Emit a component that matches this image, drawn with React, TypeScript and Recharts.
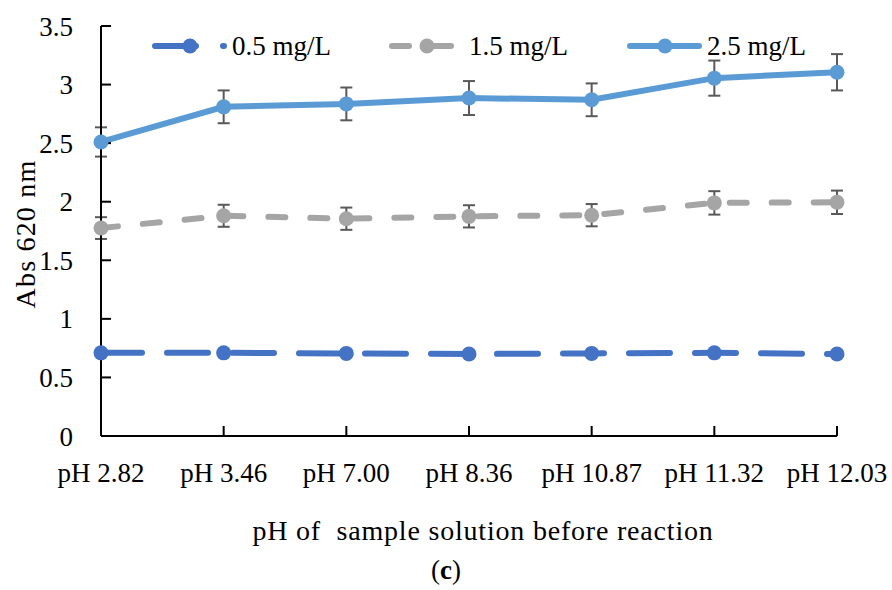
import { ErrorBar, Label, Legend, Line, LineChart, XAxis, YAxis } from 'recharts';

const categories = ['pH 2.82', 'pH 3.46', 'pH 7.00', 'pH 8.36', 'pH 10.87', 'pH 11.32', 'pH 12.03'];
const seriesNames = ['0.5 mg/L', '1.5 mg/L', '2.5 mg/L'];
const low = [0.71, 0.71, 0.705, 0.7, 0.705, 0.71, 0.7];
const mid = [1.775, 1.88, 1.855, 1.875, 1.885, 1.99, 1.995];
const midErr = [0.093, 0.094, 0.095, 0.095, 0.095, 0.1, 0.1];
const high = [2.51, 2.81, 2.835, 2.885, 2.87, 3.055, 3.105];
const highErr = [0.125, 0.14, 0.14, 0.145, 0.14, 0.15, 0.155];
const yTicks = [0, 0.5, 1, 1.5, 2, 2.5, 3, 3.5];

const DARK = '#4472C4';
const GRAY = '#A5A5A5';
const LIGHT = '#5B9BD5';
const ERR = '#595959';
const FONT = '"Liberation Serif", serif';

const data = categories.map((c, i) => ({
  name: c,
  low: low[i],
  mid: mid[i],
  midErr: midErr[i],
  high: high[i],
  highErr: highErr[i],
}));

const legendItems = [
  { name: seriesNames[0], color: DARK, dash: '41 27', left: 152, width: 76, marker: 38, gap: 4 },
  { name: seriesNames[1], color: GRAY, dash: '17 25', left: 389, width: 71, marker: 38, gap: 9 },
  { name: seriesNames[2], color: LIGHT, dash: undefined, left: 627, width: 76, marker: 38, gap: 4 },
];

function LegendBox() {
  return (
    <div style={{ position: 'relative', width: 892, height: 40, fontFamily: FONT }}>
      {legendItems.map((it) => (
        <div
          key={it.name}
          style={{ position: 'absolute', left: it.left, top: 0, height: 40, display: 'flex', alignItems: 'center' }}
        >
          <svg width={it.width} height={40} style={{ display: 'block' }}>
            <line
              x1={3}
              x2={it.width - 4}
              y1={20}
              y2={20}
              stroke={it.color}
              strokeWidth={6}
              strokeLinecap="round"
              strokeDasharray={it.dash}
            />
            <circle cx={it.marker} cy={20} r={7.5} fill={it.color} />
          </svg>
          <span style={{ fontSize: 27, color: '#000', marginLeft: it.gap, whiteSpace: 'nowrap' }}>{it.name}</span>
        </div>
      ))}
    </div>
  );
}

export default function App() {
  return (
    <div style={{ position: 'absolute', left: 0, top: 0 }}>
      <LineChart
        width={892}
        height={590}
        data={data}
        margin={{ top: 26, right: 55, bottom: 0, left: 0 }}
        style={{ fontFamily: FONT }}
      >
        <XAxis
          dataKey="name"
          scale="point"
          padding={{ left: 0, right: 0 }}
          height={154}
          axisLine={{ stroke: '#000', strokeWidth: 2 }}
          tickLine={{ stroke: '#000', strokeWidth: 2 }}
          tickSize={-10}
          tickMargin={37}
          tick={{ fill: '#000', fontSize: 27 }}
          interval={0}
        >
          <Label
            content={(p: any) => {
              const vb = p.viewBox;
              const cx = vb.x + vb.width / 2;
              return (
                <g fontFamily={FONT} fill="#000">
                  <text
                    x={cx + 14}
                    y={vb.y + 104}
                    textAnchor="middle"
                    fontSize={28}
                    letterSpacing={0.8}
                    style={{ whiteSpace: 'pre' }}
                  >
                    pH of  sample solution before reaction
                  </text>
                  <text x={cx - 23} y={vb.y + 143} textAnchor="middle" fontSize={27}>
                    (<tspan fontWeight="bold">c</tspan>)
                  </text>
                </g>
              );
            }}
          />
        </XAxis>
        <YAxis
          width={101}
          domain={[0, 3.5]}
          ticks={yTicks}
          interval={0}
          axisLine={{ stroke: '#000', strokeWidth: 2 }}
          tickLine={{ stroke: '#000', strokeWidth: 2 }}
          tickSize={-10}
          tickMargin={38}
          tick={{ fill: '#000', fontSize: 27 }}
        >
          <Label
            content={(p: any) => {
              const vb = p.viewBox;
              const x = 25;
              const y = vb.y + vb.height / 2 + 3;
              return (
                <text
                  x={x}
                  y={y}
                  transform={`rotate(-90, ${x}, ${y})`}
                  textAnchor="middle"
                  dominantBaseline="central"
                  fontSize={28}
                  letterSpacing={1.2}
                  fontFamily={FONT}
                  fill="#000"
                >
                  Abs 620 nm
                </text>
              );
            }}
          />
        </YAxis>
        <Legend
          layout="vertical"
          verticalAlign="middle"
          align="center"
          wrapperStyle={{ top: 26, left: 0 }}
          content={() => <LegendBox />}
        />
        <Line
          dataKey="low"
          name={seriesNames[0]}
          stroke={DARK}
          strokeWidth={6}
          strokeLinecap="round"
          strokeDasharray="41 25"
          dot={{ r: 7.5, fill: DARK, stroke: DARK, strokeWidth: 0 }}
          activeDot={false}
          isAnimationActive={false}
        />
        <Line
          dataKey="mid"
          name={seriesNames[1]}
          stroke={GRAY}
          strokeWidth={6}
          strokeLinecap="round"
          strokeDasharray="17 25"
          dot={{ r: 7.5, fill: GRAY, stroke: GRAY, strokeWidth: 0 }}
          activeDot={false}
          isAnimationActive={false}
        >
          <ErrorBar dataKey="midErr" direction="y" width={6} stroke={ERR} strokeWidth={2} />
        </Line>
        <Line
          dataKey="high"
          name={seriesNames[2]}
          stroke={LIGHT}
          strokeWidth={6}
          strokeLinecap="round"
          dot={{ r: 7.5, fill: LIGHT, stroke: LIGHT, strokeWidth: 0 }}
          activeDot={false}
          isAnimationActive={false}
        >
          <ErrorBar dataKey="highErr" direction="y" width={6} stroke={ERR} strokeWidth={2} />
        </Line>
      </LineChart>
    </div>
  );
}
